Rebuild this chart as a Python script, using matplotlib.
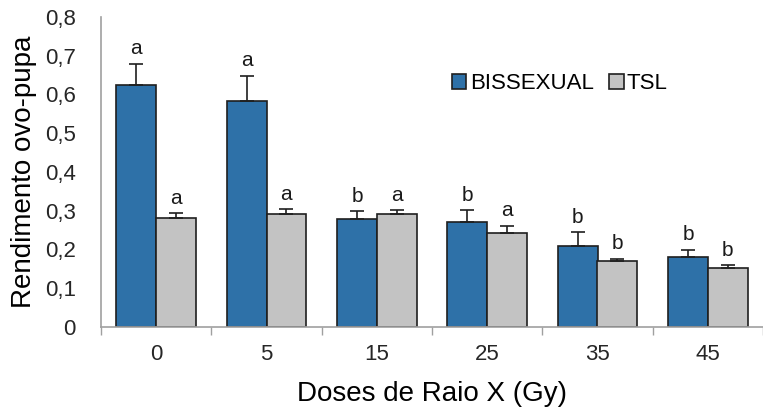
import matplotlib
matplotlib.use("Agg")
import matplotlib.pyplot as plt
import numpy as np

plt.rcParams['font.family'] = ['Liberation Sans', 'DejaVu Sans']

doses = ["0", "5", "15", "25", "35", "45"]
bissexual = [0.624, 0.583, 0.280, 0.270, 0.209, 0.181]
bissexual_err = [0.055, 0.065, 0.019, 0.032, 0.036, 0.018]
tsl = [0.281, 0.292, 0.292, 0.242, 0.170, 0.152]
tsl_err = [0.013, 0.012, 0.010, 0.019, 0.006, 0.008]
bis_letters = ["a", "a", "b", "b", "b", "b"]
tsl_letters = ["a", "a", "a", "a", "b", "b"]

fig = plt.figure(figsize=(7.63, 4.12), dpi=100)
ax = fig.add_axes([101/763, 1-327/412, 662/763, 310/412])

x = np.arange(len(doses))
w = 0.36
blue = "#2E71A8"
gray = "#C3C3C3"
ax.bar(x - w/2, bissexual, w, color=blue, edgecolor="#1f1f1f", linewidth=1.2,
       label="BISSEXUAL", zorder=2)
ax.bar(x + w/2, tsl, w, color=gray, edgecolor="#1f1f1f", linewidth=1.2,
       label="TSL", zorder=2)
ax.errorbar(x - w/2, bissexual, yerr=[np.zeros(6), bissexual_err], fmt="none",
            ecolor="#1f1f1f", elinewidth=1.2, capsize=5, capthick=1.2, zorder=3)
ax.errorbar(x + w/2, tsl, yerr=[np.zeros(6), tsl_err], fmt="none",
            ecolor="#1f1f1f", elinewidth=1.2, capsize=5, capthick=1.2, zorder=3)

for i in range(len(doses)):
    ax.text(x[i] - w/2, bissexual[i] + bissexual_err[i] + 0.014, bis_letters[i],
            ha="center", va="bottom", fontsize=15, color="#1a1a1a")
    ax.text(x[i] + w/2, tsl[i] + tsl_err[i] + 0.014, tsl_letters[i],
            ha="center", va="bottom", fontsize=15, color="#1a1a1a")

ax.set_xlim(-0.5, 5.5)
ax.set_ylim(0, 0.8)
ax.set_yticks(np.arange(0, 0.81, 0.1))
ax.set_yticklabels(["0"] + [f"0,{i}" for i in range(1, 9)], fontsize=16, color="#262626")
ax.set_xticks(x)
ax.set_xticklabels(doses, fontsize=16, color="#262626")
ax.set_xticks(np.arange(-0.5, 5.6, 1), minor=True)
ax.tick_params(axis="x", which="major", length=0, pad=12)
ax.tick_params(axis="x", which="minor", length=6, color="#a0a0a0", width=1)
ax.tick_params(axis="y", length=0, pad=18)
for s in ["top", "right"]:
    ax.spines[s].set_visible(False)
ax.spines["left"].set_color("#a0a0a0")
ax.spines["bottom"].set_color("#a0a0a0")
ax.spines["left"].set_linewidth(1.2)
ax.spines["bottom"].set_linewidth(1.2)

ax.set_ylabel("Rendimento ovo-pupa", fontsize=20, labelpad=6)
ax.set_xlabel("Doses de Raio X (Gy)", fontsize=20, labelpad=12)

ax.legend(loc="center left", bbox_to_anchor=(0.50, 0.785), ncol=2, frameon=False,
          fontsize=16, handlelength=0.65, handleheight=0.65, handletextpad=0.15,
          columnspacing=0.7)

fig.savefig("out.png", dpi=100)
